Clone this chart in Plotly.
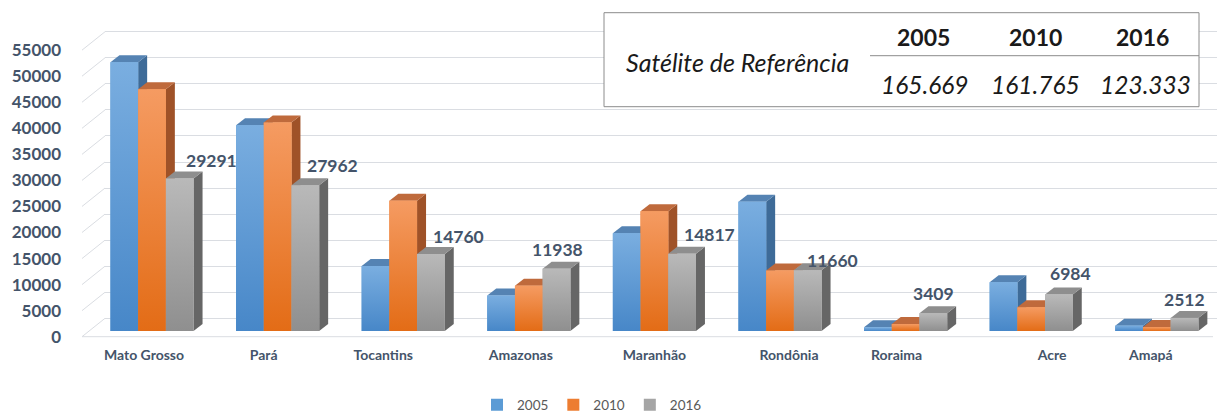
import plotly.graph_objects as go

# ---------------- data ----------------
states = ["Mato Grosso", "Pará", "Tocantins", "Amazonas", "Maranhão",
          "Rondônia", "Roraima", "Acre", "Amapá"]
years = ["2005", "2010", "2016"]
v2005 = [51600, 39500, 12500, 6800, 18750, 24800, 700, 9350, 1020]
v2010 = [46400, 40000, 25000, 8700, 23000, 11600, 1350, 4550, 750]
v2016 = [29291, 27962, 14760, 11938, 14817, 11660, 3409, 6984, 2512]
series = [v2005, v2010, v2016]

table_label = "Satélite de Referência"
table_years = ["2005", "2010", "2016"]
table_totals = ["165.669", "161.765", "123.333"]

y_ticks = list(range(0, 55001, 5000))
y_ticktext = [str(t) for t in y_ticks]

# ---------------- style / geometry ----------------
OFF = 8                      # page body margin in the browser
W, H = 1225 - OFF, 414 - OFF
plot_l, plot_r, plot_t, plot_b = 105, 1218, 20, 345   # window pixels
step_px = 125.6
first_center_px = 152.0
scale = 0.00521            # px per data unit
bar_base_px = 331.0        # front face bottom of bars
label_base_px = 336.7      # front (floor edge) zero
grid_base_px = 318.3       # back wall zero

x_left = (plot_l - first_center_px) / step_px
x_right = x_left + (plot_r - plot_l) / step_px

def yrange(base_px):
    return [(base_px - plot_b) / scale, (base_px - plot_t) / scale]

bw = 27.7 / step_px
offsets = [-1.5 * bw, -0.5 * bw, 0.5 * bw]
dx = 9.0 / step_px
dy = 7.0 / scale

front_top = ["#7aaee0", "#f59b62", "#b9b9b9"]
front_bot = ["#4787c8", "#e36c16", "#8f8f8f"]
top_col = ["#5583b3", "#bf6a3c", "#8e8e8e"]
side_col = ["#3e6b98", "#9f5228", "#666666"]
legend_col = ["#5b9bd5", "#ed7d31", "#a5a5a5"]

label_xshift = [32, 27, 28, 1, 27, 25, 0, 12, 0]
label_yshift = [18, 20, 18, 19, 19, 10, 20, 21, 18]
cat_label_shift_px = [-8, -14, -20, -8, 0, 9, -9, 21, -6]

txt_col = "#44546a"
grid_col = "#dadde2"
FONT = "Lato"

xs = list(range(len(states)))

fig = go.Figure()

# real bar traces (front faces) – these carry the legend
for k, (yr, vals) in enumerate(zip(years, series)):
    fig.add_trace(go.Bar(
        x=xs, y=vals, name=yr, width=bw, offset=offsets[k],
        marker=dict(color=legend_col[k], line=dict(width=0)),
        hovertemplate="%{y}<extra>" + yr + "</extra>",
    ))

# gradient front faces (overlay, same geometry as bars)
for k, vals in enumerate(series):
    for i, v in enumerate(vals):
        xl = xs[i] + offsets[k]
        xr = xl + bw
        fig.add_trace(go.Scatter(
            x=[xl, xr, xr, xl, xl], y=[0, 0, v, v, 0],
            mode="lines", line=dict(width=0), fill="toself",
            fillgradient=dict(type="vertical",
                              colorscale=[[0, front_bot[k]], [1, front_top[k]]]),
            showlegend=False, hoverinfo="skip",
        ))

# dummy traces so the overlay axes are drawn
fig.add_trace(go.Scatter(x=[None], y=[None], yaxis="y2", showlegend=False, hoverinfo="skip"))
fig.add_trace(go.Scatter(x=[None], y=[None], yaxis="y3", showlegend=False, hoverinfo="skip"))

shapes = []
# 3D side and top faces
for k, vals in enumerate(series):
    for i, v in enumerate(vals):
        xl = xs[i] + offsets[k]
        xr = xl + bw
        side = (f"M{xr},0 L{xr+dx},{dy} L{xr+dx},{v+dy} L{xr},{v} Z")
        top = (f"M{xl},{v} L{xr},{v} L{xr+dx},{v+dy} L{xl+dx},{v+dy} Z")
        shapes.append(dict(type="path", path=side, xref="x", yref="y",
                           fillcolor=side_col[k], line=dict(width=0), layer="between"))
        shapes.append(dict(type="path", path=top, xref="x", yref="y",
                           fillcolor=top_col[k], line=dict(width=0), layer="between"))

def px2paper_x(px):
    return (px - plot_l) / (plot_r - plot_l)

def px2paper_y(py):
    return (plot_b - py) / (plot_b - plot_t)

# left-side diagonal gridline segments (front label edge -> back wall)
front_off = (grid_base_px - label_base_px) / scale
x_front_paper = px2paper_x(82)
for t in y_ticks:
    shapes.append(dict(type="line", xref="paper", yref="y3",
                       x0=x_front_paper, y0=t + front_off, x1=0, y1=t,
                       line=dict(color=grid_col, width=1), layer="above"))
# floor front edge
shapes.append(dict(type="line", xref="paper", yref="y3",
                   x0=x_front_paper, y0=front_off,
                   x1=px2paper_x(1213), y1=front_off,
                   line=dict(color=grid_col, width=1), layer="above"))

# table box
shapes.append(dict(type="rect", xref="paper", yref="paper",
                   x0=px2paper_x(604), x1=px2paper_x(1199),
                   y0=px2paper_y(106.7), y1=px2paper_y(12.7),
                   fillcolor="white", line=dict(color="#8c8c8c", width=1), layer="above"))
shapes.append(dict(type="line", xref="paper", yref="paper",
                   x0=px2paper_x(870), x1=px2paper_x(1199),
                   y0=px2paper_y(55.7), y1=px2paper_y(55.7),
                   line=dict(color="#8c8c8c", width=1), layer="above"))

annotations = []
# data labels for 2016
for i, v in enumerate(v2016):
    annotations.append(dict(
        x=xs[i] + offsets[2] + bw / 2, y=v, xref="x", yref="y",
        text=f"{v}", showarrow=False, xanchor="center", yanchor="middle",
        xshift=label_xshift[i], yshift=label_yshift[i],
        font=dict(family=FONT, size=17.5, color=txt_col, weight="bold"),
    ))

# table texts
annotations.append(dict(x=px2paper_x(737), y=px2paper_y(62), xref="paper", yref="paper",
                        text=f"<i>{table_label}</i>", showarrow=False,
                        xanchor="center", yanchor="middle",
                        font=dict(family=FONT, size=25, color="#1a1a1a")))
hdr_x = [924, 1035, 1142]
val_x = [925, 1035, 1145]
for j in range(3):
    annotations.append(dict(x=px2paper_x(hdr_x[j]), y=px2paper_y(36.7), xref="paper", yref="paper",
                            text=f"<b>{table_years[j]}</b>", showarrow=False,
                            xanchor="center", yanchor="middle",
                            font=dict(family=FONT, size=23, color="#1a1a1a")))
    annotations.append(dict(x=px2paper_x(val_x[j]), y=px2paper_y(84), xref="paper", yref="paper",
                            text=f"<i>{table_totals[j]}</i>", showarrow=False,
                            xanchor="center", yanchor="middle",
                            font=dict(family=FONT, size=24.5, color="#1a1a1a")))

cat_tickvals = [x + s / step_px for x, s in zip(xs, cat_label_shift_px)]

fig.update_layout(
    width=W, height=H,
    margin=dict(l=plot_l - OFF, r=(W + OFF) - plot_r, t=plot_t - OFF,
                b=(H + OFF) - plot_b, autoexpand=False),
    paper_bgcolor="white", plot_bgcolor="white",
    barmode="overlay",
    showlegend=True,
    legend=dict(orientation="h", x=px2paper_x(592), xanchor="center",
                y=px2paper_y(405), yanchor="middle",
                font=dict(family=FONT, size=13.5, color="#595959"),
                itemclick=False, itemdoubleclick=False),
    xaxis=dict(range=[x_left, x_right], showgrid=False, zeroline=False, showline=False,
               tickmode="array", tickvals=cat_tickvals, ticktext=states,
               ticks="", tickfont=dict(family=FONT, size=14, color=txt_col, weight="bold")),
    yaxis=dict(range=yrange(bar_base_px), showgrid=False, zeroline=False,
               showticklabels=False, ticks=""),
    yaxis2=dict(range=yrange(label_base_px), overlaying="y", side="left",
                showgrid=False, zeroline=False, showline=False,
                tickmode="array", tickvals=y_ticks, ticktext=y_ticktext, ticks="",
                ticklabelstandoff=43,
                tickfont=dict(family=FONT, size=17, color=txt_col, weight="bold")),
    yaxis3=dict(range=yrange(grid_base_px), overlaying="y", side="left",
                showgrid=True, gridcolor=grid_col, gridwidth=1,
                zeroline=False, showline=False, showticklabels=False,
                tickmode="array", tickvals=y_ticks, ticks=""),
    shapes=shapes,
    annotations=annotations,
)

fig.write_html("out.html")
